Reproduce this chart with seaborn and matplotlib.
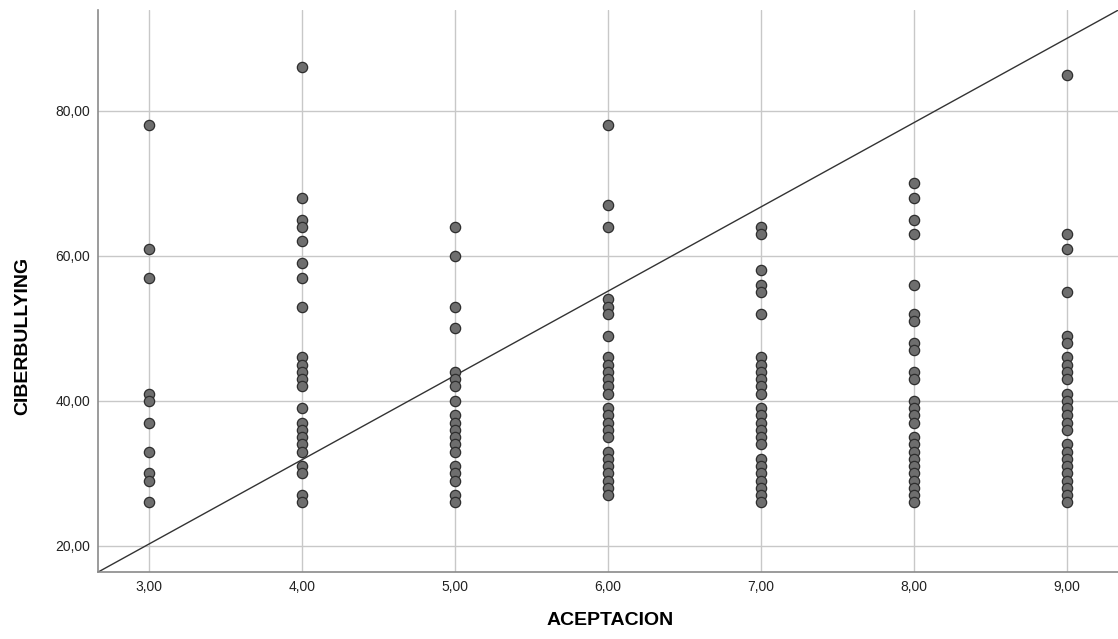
import pandas as pd
import matplotlib.pyplot as plt
import matplotlib.ticker as mticker
import seaborn as sns

# CIBERBULLYING scores, one list per ACEPTACION value
acep_3 = [78, 61, 57, 41, 40, 37, 33, 30, 29, 26]
acep_4 = [86, 68, 65, 64, 62, 59, 57, 53, 46, 45, 44, 43, 42, 39,
          37, 36, 35, 34, 33, 31, 30, 27, 26]
acep_5 = [64, 60, 53, 50, 44, 43, 42, 40, 38, 37, 36, 35, 34, 33,
          31, 30, 29, 27, 26]
acep_6 = [78, 67, 64, 54, 53, 52, 49, 46, 45, 44, 43, 42, 41, 39,
          38, 37, 36, 35, 33, 32, 31, 30, 29, 28, 27]
acep_7 = [64, 63, 58, 56, 55, 52, 46, 45, 44, 43, 42, 41, 39, 38,
          37, 36, 35, 34, 32, 31, 30, 29, 28, 27, 26]
acep_8 = [70, 68, 65, 63, 56, 52, 51, 48, 47, 44, 43, 40, 39, 38,
          37, 35, 34, 33, 32, 31, 30, 29, 28, 27, 26]
acep_9 = [85, 63, 61, 55, 49, 48, 46, 45, 44, 43, 41, 40, 39, 38,
          37, 36, 34, 33, 32, 31, 30, 29, 28, 27, 26]

groups = {3: acep_3, 4: acep_4, 5: acep_5, 6: acep_6, 7: acep_7, 8: acep_8, 9: acep_9}
rows = [(a, c) for a, vals in groups.items() for c in vals]
df = pd.DataFrame(rows, columns=["ACEPTACION", "CIBERBULLYING"])

sns.set_style("white")
plt.rcParams["font.family"] = ["Liberation Sans", "DejaVu Sans"]

fig = plt.figure(figsize=(11.18, 6.39), dpi=100)
ax = fig.add_axes([0.088, 0.105, 0.912, 0.879])

ax.grid(True, color="#c8c8c8", linewidth=1.0)
ax.set_axisbelow(True)

sns.scatterplot(x="ACEPTACION", y="CIBERBULLYING", data=df, ax=ax,
                color="#6e6e6e", edgecolor="#2e2e2e", linewidth=0.9,
                s=55, zorder=3)

ax.set_xlim(2.667, 9.333)
ax.set_ylim(16.4, 93.9)

# diagonal reference line corner to corner
ax.axline((0, 0), (1, 1), transform=ax.transAxes, color="#333333", linewidth=1.0, zorder=2)

ax.set_xticks([3, 4, 5, 6, 7, 8, 9])
ax.set_yticks([20, 40, 60, 80])
fmt = mticker.FuncFormatter(lambda v, p: f"{v:.2f}".replace(".", ","))
ax.xaxis.set_major_formatter(fmt)
ax.yaxis.set_major_formatter(fmt)
ax.tick_params(axis="both", labelsize=10, colors="#222222", length=0, pad=6)

for side in ["top", "right"]:
    ax.spines[side].set_visible(False)
for side in ["left", "bottom"]:
    ax.spines[side].set_color("#8a8a8a")
    ax.spines[side].set_linewidth(1.2)

ax.set_xlabel("ACEPTACION", fontsize=14, fontweight="bold", color="black")
ax.set_ylabel("CIBERBULLYING", fontsize=14, fontweight="bold", color="black")
ax.xaxis.set_label_coords(0.502, -0.071)
ax.yaxis.set_label_coords(-0.066, 0.42)

plt.savefig("out.png", dpi=100)
plt.close()
